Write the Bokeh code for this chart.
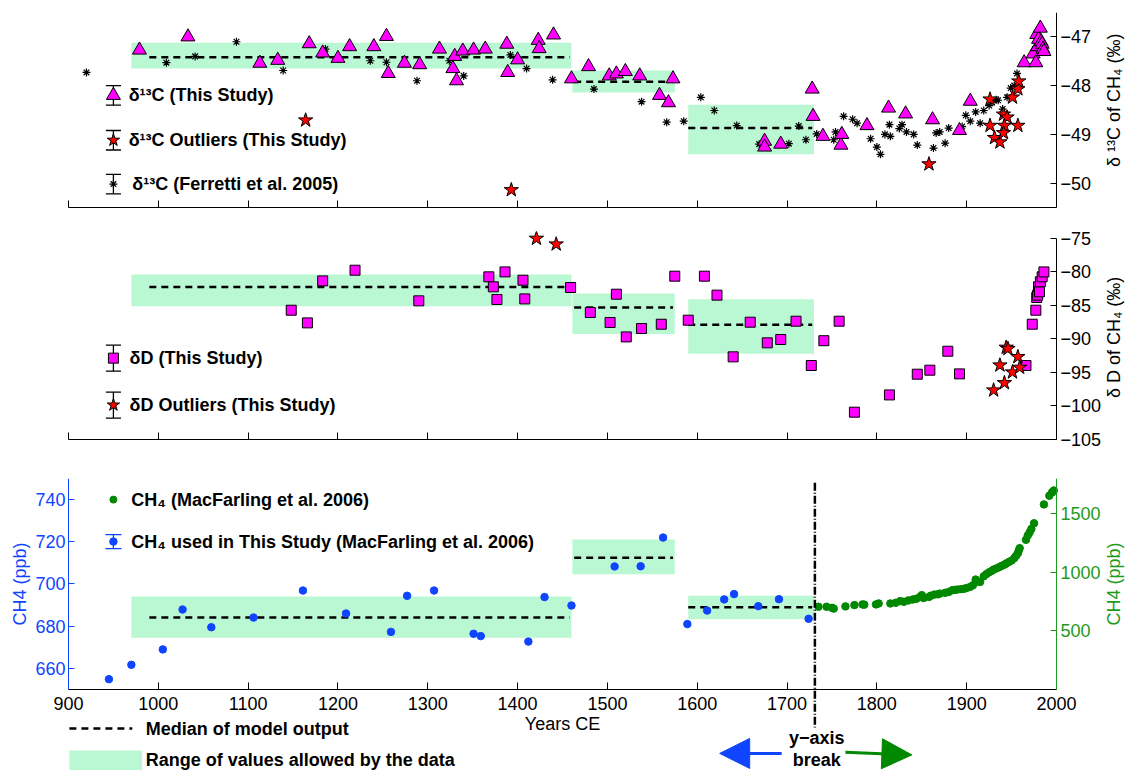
import math
from bokeh.plotting import figure
from bokeh.layouts import column
from bokeh.models import Range1d, LinearAxis, FixedTicker, Arrow, NormalHead
from bokeh.core.properties import value
from bokeh.embed import file_html
from bokeh.resources import INLINE

FONT = "Liberation Sans"
MAGENTA = "#FF00FF"
RED = "#FF0000"
BLUE = "#0F45FF"
GREEN = "#008800"
GREEN_AX = "#1E9A1E"
MINT = "#BAF7D3"

# ---------------- data ----------------
YEAR_TICKS = list(range(900, 2001, 100))
YEAR_MIN, YEAR_MAX = 900, 2000
BREAK_YEAR = 1731
C13_TICKS = [-50, -49, -48, -47]
D_TICKS = [-105, -100, -95, -90, -85, -80, -75]
CH4_TICKS = [660, 680, 700, 720, 740]
MF_TICKS = [500, 1000, 1500]

# model windows (range boxes and medians)
BOX_START = [970, 1461, 1590]
BOX_END = [1460, 1575, 1730]
MED_START = [990, 1463, 1590]
MED_END = [1458, 1573, 1728]
C13_LO = [-47.65, -48.14, -49.41]
C13_HI = [-47.12, -47.69, -48.39]
C13_MED = [-47.42, -47.92, -48.87]
D_LO = [-85.15, -89.28, -92.26]
D_HI = [-80.42, -83.26, -84.10]
D_MED = [-82.27, -85.35, -87.93]
CH4_LO = [674.5, 704.6, 683.3]
CH4_HI = [694.1, 721.1, 694.4]
CH4_MED = [684.1, 712.4, 689.0]

# d13C this study
C13_YEAR = [979, 1033, 1113, 1133, 1168, 1183, 1200, 1213, 1240, 1254,
            1256, 1274, 1291, 1313, 1328, 1330, 1332, 1339, 1351, 1364,
            1388, 1389, 1400, 1423, 1424, 1440, 1460, 1479, 1502, 1510,
            1520, 1536, 1558, 1568, 1573, 1675, 1675, 1693, 1728, 1729,
            1740, 1760, 1761, 1789, 1813, 1832, 1862, 1892, 1904, 1964,
            1974, 1977, 1978, 1979, 1980, 1982, 1983, 1984, 1985, 1986]
C13_VAL = [-47.27, -47.00, -47.54, -47.48, -47.14, -47.33, -47.44, -47.20, -47.20, -46.99,
           -47.75, -47.54, -47.57, -47.25, -47.65, -47.40, -47.90, -47.29, -47.27, -47.25,
           -47.15, -47.73, -47.47, -47.07, -47.24, -46.96, -47.86, -47.61, -47.80, -47.76,
           -47.71, -47.80, -48.20, -48.35, -47.86, -49.14, -49.26, -49.20, -48.07, -48.63,
           -49.04, -49.22, -49.00, -48.82, -48.46, -48.58, -48.70, -48.92, -48.32, -47.53,
           -47.35, -47.53, -46.95, -47.20, -47.05, -46.82, -47.10, -47.15, -47.25, -47.30]

# d13C outliers
C13_OUT_YEAR = [1164, 1393, 1858, 1926, 1926, 1931, 1937, 1941, 1945, 1942, 1941, 1951, 1957, 1958, 1957]
C13_OUT_VAL = [-48.71, -50.14, -49.61, -48.28, -48.82, -49.07, -49.16, -48.59, -48.65, -48.82,
               -48.97, -48.24, -48.07, -47.91, -48.82]

# d13C Ferretti et al. 2005
FER_YEAR = [920, 1009, 1041, 1087, 1139, 1186, 1236, 1254, 1288, 1324,
            1340, 1392, 1410, 1439, 1485, 1538, 1566, 1585, 1604, 1619,
            1644, 1669, 1702, 1713, 1721, 1733, 1752, 1754, 1763, 1773,
            1778, 1793, 1800, 1804, 1809, 1814, 1815, 1825, 1828, 1833,
            1841, 1845, 1863, 1866, 1870, 1876, 1880, 1895, 1899, 1904,
            1910, 1915, 1919, 1925, 1928, 1933, 1935, 1940, 1945, 1949,
            1953, 1956]
FER_VAL = [-47.73, -47.53, -47.40, -47.10, -47.69, -47.25, -47.49, -47.52, -47.90, -47.49,
           -47.80, -47.37, -47.65, -47.88, -48.07, -48.33, -48.75, -48.73, -48.24, -48.51,
           -48.82, -49.20, -49.19, -48.83, -49.11, -48.99, -49.11, -48.95, -48.63, -48.69,
           -48.77, -49.09, -49.26, -49.41, -49.00, -48.80, -49.04, -48.88, -48.80, -48.95,
           -49.00, -49.22, -49.28, -48.97, -48.95, -49.18, -48.87, -48.84, -48.61, -48.73,
           -48.54, -48.77, -48.51, -48.41, -48.34, -48.29, -48.30, -48.48, -48.24, -48.05,
           -48.00, -47.75]

# dD this study
D_YEAR = [1148, 1166, 1183, 1219, 1290, 1368, 1373, 1377, 1386, 1406,
          1408, 1459, 1481, 1503, 1510, 1521, 1538, 1560, 1575, 1590,
          1608, 1622, 1640, 1659, 1678, 1693, 1710, 1727, 1741, 1758,
          1775, 1814, 1845, 1859, 1879, 1892, 1966, 1973, 1977, 1978,
          1979, 1980, 1981, 1982, 1984, 1986]
D_VAL = [-85.75, -87.64, -81.37, -79.78, -84.35, -80.77, -82.26, -84.15, -80.03, -81.27,
         -84.06, -82.36, -86.09, -87.58, -83.36, -89.73, -88.48, -87.84, -80.67, -87.24,
         -80.67, -83.50, -92.71, -87.54, -90.62, -90.12, -87.39, -94.00, -90.30, -87.39,
         -100.97, -98.39, -95.30, -94.70, -91.87, -95.25, -94.00, -87.84, -85.75, -83.85,
         -83.50, -82.26, -83.00, -81.50, -80.77, -80.03]

# dD outliers
D_OUT_YEAR = [1421, 1443, 1930, 1942, 1937, 1944, 1946, 1951, 1957, 1959]
D_OUT_VAL = [-75.05, -75.90, -97.69, -96.60, -93.96, -91.31, -91.50, -95.00, -92.71, -94.30]

# CH4 used in this study (left axis, ppb)
CH4_YEAR = [945, 970, 1005, 1027, 1059, 1106, 1161, 1209, 1259, 1277,
            1307, 1351, 1359, 1412, 1430, 1460, 1508, 1537, 1562, 1589,
            1611, 1630, 1641, 1668, 1691, 1724]
CH4_VAL = [654.9, 661.7, 669.0, 687.9, 679.5, 684.1, 696.9, 686.0, 677.3, 694.4,
           696.9, 676.4, 675.3, 672.7, 693.8, 689.8, 708.3, 708.4, 722.0, 681.0,
           687.4, 692.7, 695.2, 689.5, 692.8, 683.5]

# CH4 MacFarling et al. 2006 (right axis, ppb)
MF_YEAR = [1735, 1744, 1750, 1752, 1765, 1775, 1784, 1786, 1799, 1802,
           1815, 1821, 1826, 1830, 1835, 1840, 1844, 1848, 1850, 1852,
           1858, 1860, 1864, 1868, 1870, 1876, 1880, 1884, 1887, 1890,
           1894, 1897, 1900, 1904, 1907, 1910, 1912, 1915, 1919, 1922,
           1925, 1928, 1930, 1933, 1936, 1939, 1942, 1944, 1947, 1950,
           1953, 1955, 1957, 1958, 1959, 1966, 1968, 1970, 1972, 1975,
           1986, 1992, 1995, 1997]
MF_VAL = [706, 706, 697, 690, 709, 720, 726, 724, 726, 734,
          734, 740, 754, 748, 760, 768, 774, 790, 805, 780,
          790, 800, 810, 812, 818, 825, 832, 847, 850, 853,
          856, 859, 866, 876, 890, 938, 922, 918, 966, 985,
          1000, 1012, 1023, 1033, 1043, 1055, 1065, 1075, 1088, 1100,
          1121, 1140, 1163, 1185, 1206, 1277, 1314, 1340, 1370, 1418,
          1579, 1653, 1681, 1698]

C13_LEGEND = ["δ¹³C (This Study)", "δ¹³C Outliers (This Study)", "δ¹³C (Ferretti et al. 2005)"]
D_LEGEND = ["δD (This Study)", "δD Outliers (This Study)"]
CH4_LEGEND = ["CH₄ (MacFarling et al. 2006)", "CH₄ used in This Study (MacFarling et al. 2006)"]
KEY_LEGEND = ["Median of model output", "Range of values allowed by the data"]
BREAK_TEXT = ["y−axis", "break"]
C13_AXIS_TITLE = "δ ¹³C of CH₄ (‰)"
D_AXIS_TITLE = "δ D of CH₄ (‰)"
CH4_AXIS_TITLE = "CH4 (ppb)"
X_AXIS_TITLE = "Years CE"

# ---------------- layout ----------------
PAGE_W = 1127
FRAME_L, FRAME_R = 68, 1056          # pixel columns of the 900 and 2000 ticks
PX_PER_YEAR = (FRAME_R - FRAME_L) / (YEAR_MAX - YEAR_MIN)
xr = Range1d(YEAR_MIN - FRAME_L / PX_PER_YEAR, YEAR_MIN + (PAGE_W - FRAME_L) / PX_PER_YEAR)
RIGHT_TITLE_X = YEAR_MIN + (1113 - FRAME_L) / PX_PER_YEAR
LEFT_TITLE_X = YEAR_MIN + (19 - FRAME_L) / PX_PER_YEAR


def make_fig(yr, fh, top, bottom, yloc="right"):
    p = figure(x_range=xr, y_range=yr, frame_width=PAGE_W, frame_height=fh,
               min_border_left=0, min_border_right=0, min_border_top=top,
               min_border_bottom=bottom, y_axis_location=yloc,
               output_backend="svg", toolbar_location=None)
    p.grid.visible = False
    p.outline_line_color = None
    p.background_fill_color = "white"
    p.border_fill_color = "white"
    return p


def style(ax, color="black", tick_in=7):
    ax.major_tick_in = tick_in
    ax.major_tick_out = 0
    ax.minor_tick_line_color = None
    ax.axis_line_color = color
    ax.axis_line_width = 1
    ax.major_tick_line_color = color
    ax.major_label_text_color = color
    ax.major_label_text_font = FONT
    ax.major_label_text_font_size = "18px"
    ax.axis_label_text_font = FONT
    ax.axis_label_text_font_size = "18px"
    ax.axis_label_text_font_style = "normal"
    ax.axis_label_text_color = color


def windows(p, lo, hi, med):
    p.quad(left=BOX_START, right=BOX_END, bottom=lo, top=hi, fill_color=MINT, line_color=None)
    p.segment(x0=MED_START, y0=med, x1=MED_END, y1=med, line_color="black",
              line_width=2.5, line_dash="7 5")


def legend_text(p, xs, ys, texts, align="left"):
    p.text(x=xs, y=ys, text=texts, text_font=value(FONT), text_font_size="18px",
           text_font_style="bold", text_baseline="middle", text_align=align, text_color="black")


def axis_title(p, x, y, txt, color="black"):
    p.text(x=[x], y=[y], text=[txt], angle=math.pi / 2, text_font=value(FONT),
           text_font_size="18px", text_baseline="middle", text_align="center", text_color=color)


def errbar(p, x, y, half, cap, color="black"):
    p.segment(x0=[x, x - cap, x - cap], y0=[y - half, y - half, y + half],
              x1=[x, x + cap, x + cap], y1=[y + half, y - half, y + half],
              line_color=color, line_width=1.3)


def bottom_axis(p, labels=False):
    ax = p.xaxis[0]
    style(ax)
    ax.bounds = (YEAR_MIN, YEAR_MAX)
    ax.ticker = FixedTicker(ticks=YEAR_TICKS)
    if not labels:
        ax.major_label_overrides = {t: "" for t in YEAR_TICKS}
        ax.major_label_standoff = 0


def right_axis(ax, ticks, color="black"):
    style(ax, color=color, tick_in=6)
    ax.fixed_location = YEAR_MAX
    ax.ticker = FixedTicker(ticks=ticks)
    ax.major_label_standoff = 4
    ax.major_label_overrides = {t: ("−%d" % -t if t < 0 else "%d" % t) for t in ticks}


# ---------------- panel 1: d13C ----------------
p1 = make_fig(Range1d(-50.5, -46.5), 195, 12, 20)
windows(p1, C13_LO, C13_HI, C13_MED)
p1.scatter(FER_YEAR, FER_VAL, marker="asterisk", size=8, line_color="black", line_width=1.2)
p1.scatter(C13_YEAR, C13_VAL, marker="triangle", size=14, fill_color=MAGENTA, line_color="black")
p1.scatter(C13_OUT_YEAR, C13_OUT_VAL, marker="star", size=15, fill_color=RED, line_color="black")
for yy in (-48.2, -49.12, -50.02):
    errbar(p1, 950, yy, 0.2, 8.4)
p1.scatter([950], [-48.2], marker="triangle", size=14, fill_color=MAGENTA, line_color="black")
p1.scatter([950], [-49.12], marker="star", size=13, fill_color=RED, line_color="black")
p1.scatter([950], [-50.02], marker="asterisk", size=8, line_color="black", line_width=1.2)
legend_text(p1, [967, 967, 971], [-48.2, -49.12, -50.02], C13_LEGEND)
bottom_axis(p1)
right_axis(p1.yaxis[0], C13_TICKS)
axis_title(p1, RIGHT_TITLE_X, -48.3, C13_AXIS_TITLE)

# ---------------- panel 2: dD (frame reaches a little below -105 so its label shows) ----------------
D_PX_PER_UNIT = 201 / 30
p2 = make_fig(Range1d(-74 - 218 / D_PX_PER_UNIT, -74), 218, 4, 19)
windows(p2, D_LO, D_HI, D_MED)
p2.scatter(D_YEAR, D_VAL, marker="square", size=10, fill_color=MAGENTA, line_color="black")
p2.scatter(D_OUT_YEAR, D_OUT_VAL, marker="star", size=15, fill_color=RED, line_color="black")
for yy in (-92.9, -99.9):
    errbar(p2, 950, yy, 1.94, 8.4)
p2.scatter([950], [-92.9], marker="square", size=10, fill_color=MAGENTA, line_color="black")
p2.scatter([950], [-99.9], marker="star", size=13, fill_color=RED, line_color="black")
legend_text(p2, [968, 968], [-92.9, -99.9], D_LEGEND)
bottom_axis(p2)
p2.xaxis[0].fixed_location = -105
right_axis(p2.yaxis[0], D_TICKS)
p2.yaxis[0].bounds = (-105, -75)
axis_title(p2, RIGHT_TITLE_X, -89.8, D_AXIS_TITLE)

# ---------------- panel 3: CH4 (frame extends under the axis for the key) ----------------
p3 = make_fig(Range1d(611.6, 750), 292, 10, 0, yloc="left")
p3.extra_y_ranges = {"mf": Range1d(-691, 1800)}
windows(p3, CH4_LO, CH4_HI, CH4_MED)
p3.scatter(CH4_YEAR, CH4_VAL, marker="circle", size=7.5, fill_color=BLUE, line_color=BLUE)
p3.scatter(MF_YEAR, MF_VAL, marker="circle", size=7.5, fill_color=GREEN, line_color=GREEN,
           y_range_name="mf")
p3.scatter([950], [740], marker="circle", size=7, fill_color=GREEN, line_color=GREEN)
errbar(p3, 950, 720.1, 3.3, 9, color=BLUE)
p3.scatter([950], [720.1], marker="circle", size=7.5, fill_color=BLUE, line_color=BLUE)
legend_text(p3, [970, 970], [740, 720.1], CH4_LEGEND)

bottom_axis(p3, labels=True)
ax3 = p3.xaxis[0]
ax3.fixed_location = 650
ax3.major_label_standoff = 8
ax3.axis_label = X_AXIS_TITLE
ax3.axis_label_standoff = 0

al = p3.yaxis[0]
style(al, color=BLUE, tick_in=6)
al.fixed_location = YEAR_MIN
al.bounds = (650, 750)
al.ticker = FixedTicker(ticks=CH4_TICKS)
al.major_label_standoff = 3
axis_title(p3, LEFT_TITLE_X, 700, CH4_AXIS_TITLE, color=BLUE)

ar = LinearAxis(y_range_name="mf")
right_axis(ar, MF_TICKS, color=GREEN_AX)
ar.bounds = (0, 1800)
p3.add_layout(ar, "right")
axis_title(p3, RIGHT_TITLE_X, 700, CH4_AXIS_TITLE, color=GREEN_AX)

# y-axis break line
p3.segment(x0=[BREAK_YEAR], y0=[748], x1=[BREAK_YEAR], y1=[632], line_color="black",
           line_width=2.5, line_dash="8 2 1 2")
p3.add_layout(Arrow(x_start=1694, y_start=619.7, x_end=1625, y_end=619.7, line_color=BLUE, line_width=3,
                    end=NormalHead(size=30, fill_color=BLUE, line_color=BLUE)))
p3.add_layout(Arrow(x_start=1765, y_start=620.2, x_end=1839, y_end=619.0, line_color=GREEN, line_width=3,
                    end=NormalHead(size=30, fill_color=GREEN, line_color=GREEN)))
legend_text(p3, [1733, 1733], [626.8, 616.8], BREAK_TEXT, align="center")
# key for the model output
p3.segment(x0=[901], y0=[631.5], x1=[971], y1=[631.5], line_color="black", line_width=2.5,
           line_dash="7 5")
p3.quad(left=[901], right=[982], top=[621.1], bottom=[611.6], fill_color=MINT, line_color=None)
legend_text(p3, [986, 986], [631.5, 616.8], KEY_LEGEND)

layout = column(p1, p2, p3, spacing=0)
open("out.html", "w").write(file_html(layout, INLINE))
